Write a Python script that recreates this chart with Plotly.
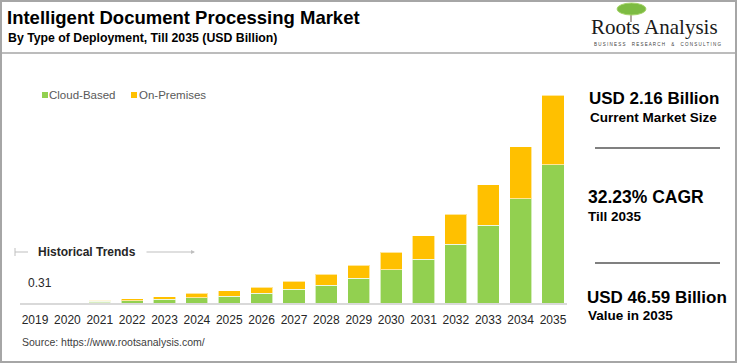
import plotly.graph_objects as go

W, H = 737, 364

years = list(range(2019, 2036))
cloud_based = [0.19, 0.26, 0.35, 0.55, 0.85, 1.20, 1.57, 2.24, 3.05, 4.00, 5.60, 7.47, 9.85, 13.20, 17.40, 23.40, 31.00]
on_premises = [0.12, 0.16, 0.25, 0.40, 0.55, 0.96, 1.13, 1.26, 1.80, 2.50, 2.90, 3.88, 5.25, 6.70, 9.10, 11.66, 15.59]
bar_opacity = [0.0, 0.0, 0.35, 1, 1, 1, 1, 1, 1, 1, 1, 1, 1, 1, 1, 1, 1]
series_names = ["Cloud-Based", "On-Premises"]

title_text = "Intelligent Document Processing Market"
subtitle_text = "By Type of Deployment, Till 2035 (USD Billion)"
source_text = "Source: https://www.rootsanalysis.com/"

GREEN = "#92D050"
ORANGE = "#FFC000"
FONT = "Arial, Liberation Sans, sans-serif"

def px(x):
    return x / W

def py(y):
    return 1 - y / H

fig = go.Figure()
fig.add_trace(go.Bar(x=years, y=cloud_based, name=series_names[0],
                     marker=dict(color=GREEN, opacity=bar_opacity,
                                 line=dict(color="rgba(255,255,255,0.6)", width=1)),
                     width=0.68))
fig.add_trace(go.Bar(x=years, y=on_premises, name=series_names[1],
                     marker=dict(color=ORANGE, opacity=bar_opacity,
                                 line=dict(color="rgba(255,255,255,0.6)", width=1)),
                     width=0.68))

x_left, x_right = 20, 567
x_c0, x_c1 = 35, 553
step = (x_c1 - x_c0) / 16
base_y, top_y = 303, 90
pxu = (303 - 95.3) / 46.59

fig.update_layout(
    width=W, height=H, barmode="stack",
    margin=dict(l=0, r=0, t=0, b=0),
    paper_bgcolor="white", plot_bgcolor="white",
    font=dict(family=FONT, color="#262626"),
    showlegend=False,
    xaxis=dict(domain=[px(x_left), px(x_right)],
               range=[2019 - (x_c0 - x_left) / step, 2035 + (x_right - x_c1) / step],
               tickmode="array", tickvals=years, ticktext=[str(y) for y in years],
               tickfont=dict(size=12, color="#262626"),
               ticks="outside", ticklen=5, tickcolor="rgba(0,0,0,0)",
               showline=True, linecolor="#D9D9D9", linewidth=2,
               showgrid=False, zeroline=False, fixedrange=True),
    yaxis=dict(domain=[py(base_y), py(top_y)], range=[0, (base_y - top_y) / pxu],
               visible=False, showgrid=False, zeroline=False, fixedrange=True),
)

shapes = []
# outer frame
shapes.append(dict(type="rect", xref="paper", yref="paper", x0=px(1), x1=px(736), y0=py(362), y1=py(1),
                   line=dict(color="#A6A6A6", width=2)))
# header divider
shapes.append(dict(type="line", xref="paper", yref="paper", x0=px(1), x1=px(736), y0=py(53), y1=py(53),
                   line=dict(color="#A6A6A6", width=1.5)))
# right panel dividers
for yy in (148, 263):
    shapes.append(dict(type="line", xref="paper", yref="paper", x0=px(595), x1=px(720), y0=py(yy), y1=py(yy),
                       line=dict(color="#808080", width=2)))
# historical trends bracket
shapes.append(dict(type="line", xref="paper", yref="paper", x0=px(15), x1=px(15), y0=py(248), y1=py(256),
                   line=dict(color="#BFBFBF", width=1)))
shapes.append(dict(type="line", xref="paper", yref="paper", x0=px(15), x1=px(28), y0=py(252), y1=py(252),
                   line=dict(color="#BFBFBF", width=1)))
# legend swatches
for x0, col in ((42, GREEN), (131, ORANGE)):
    shapes.append(dict(type="rect", xref="paper", yref="paper", x0=px(x0), x1=px(x0 + 6), y0=py(98), y1=py(92),
                       fillcolor=col, line=dict(width=0)))
# logo tree
shapes.append(dict(type="line", xref="paper", yref="paper", x0=px(631), x1=px(631), y0=py(10), y1=py(22),
                   line=dict(color="#9C8E80", width=1.5)))
shapes.append(dict(type="circle", xref="paper", yref="paper", x0=px(617), x1=px(646), y0=py(15), y1=py(3),
                   fillcolor="#7DBB42", line=dict(color="#A6D46B", width=1)))
fig.update_layout(shapes=shapes)

ann = []
def text(x, y, s, size, bold=False, color="#000000", anchor="left", family=FONT):
    ann.append(dict(xref="paper", yref="paper", x=px(x), y=py(y), xanchor=anchor, yanchor="middle",
                    text=("<b>%s</b>" % s) if bold else s, showarrow=False,
                    font=dict(size=size, color=color, family=family)))

text(5, 17, title_text, 18.5, bold=True)
text(6, 38, subtitle_text, 12.3, bold=True)
text(654, 27, "Roots Analysis", 21, color="#1a1a1a", anchor="center", family="Liberation Serif, Times New Roman, serif")
text(657, 44, " ".join("BUSINESS  RESEARCH  &  CONSULTING"), 4.5, color="#404040", anchor="center")

text(47, 95, series_names[0], 11.5, color="#595959")
text(137, 95, series_names[1], 11.5, color="#595959")

text(654, 99, "USD 2.16 Billion", 17, bold=True, anchor="center")
text(653, 118, "Current Market Size", 13.5, bold=True, anchor="center")
text(586, 197, "32.23% CAGR", 17.5, bold=True)
text(586, 216, "Till 2035", 13.5, bold=True)
text(585, 297, "USD 46.59 Billion", 17, bold=True)
text(586, 315, "Value in 2035", 13.5, bold=True)

text(36, 252, "Historical Trends", 12, bold=True, color="#262626")
text(26, 283, "0.31", 12, color="#262626")
text(20, 342, source_text, 10.5, color="#404040")

ann.append(dict(xref="paper", yref="paper", axref="pixel", ayref="pixel",
                x=px(195), y=py(252), ax=-50, ay=0, text="", showarrow=True,
                arrowhead=2, arrowsize=0.8, arrowwidth=1, arrowcolor="#BFBFBF"))
fig.update_layout(annotations=ann)

fig.write_html("out.html", config={"displayModeBar": False},
               post_script="document.body.style.margin='0px';document.body.style.overflow='hidden';")
